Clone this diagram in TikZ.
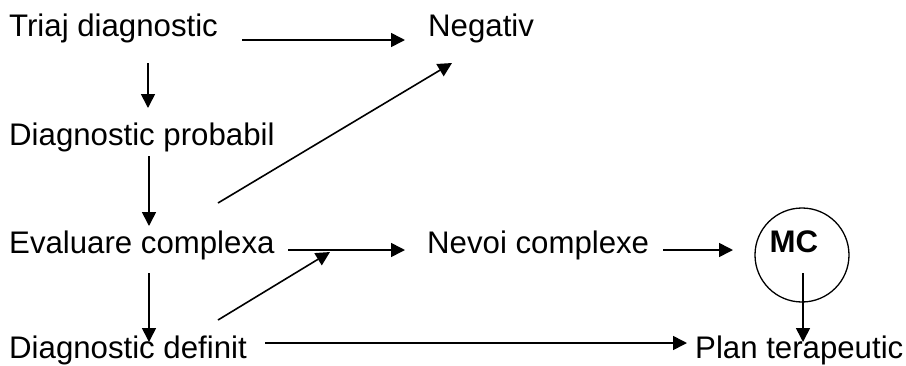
\documentclass[tikz,border=0pt]{standalone}
\usepackage{fontspec}
\setmainfont{Liberation Sans}
\usetikzlibrary{arrows.meta}
\begin{document}
\begin{tikzpicture}[x=1pt,y=-1pt,
  lbl/.style={inner sep=0pt,anchor=base west,font=\fontsize{31.2}{36}\selectfont},
  arr/.style={line width=1.6pt,-{Triangle[length=14pt,width=14pt]}},
  ring/.style={draw,circle,line width=1.3pt,minimum size=94pt,inner sep=0pt}]
\useasboundingbox (0,0) rectangle (906,365);
% text nodes
\node[lbl] (triaj) at (9,36) {Triaj diagnostic};
\node[lbl] (neg) at (428,36) {Negativ};
\node[lbl] (prob) at (9,145) {Diagnostic probabil};
\node[lbl] (eval) at (9,253) {Evaluare complexa};
\node[lbl] (nevoi) at (427,253) {Nevoi complexe};
\node[lbl] (def) at (9,358) {Diagnostic definit};
\node[lbl] (plan) at (695,358) {Plan terapeutic};
\node[ring] (mcc) at (802,255) {};
\node[inner sep=0pt,anchor=base,font=\fontsize{31.2}{36}\selectfont\bfseries] (mc) at (794,252) {MC};
% connector ends
\coordinate (a1) at (242,40);  \coordinate (a2) at (405,40);
\coordinate (b1) at (148,63);  \coordinate (b2) at (148,108);
\coordinate (c1) at (149,156); \coordinate (c2) at (149,226);
\coordinate (d1) at (218,203); \coordinate (d2) at (452,63);
\coordinate (e1) at (288,250); \coordinate (e2) at (405,250);
\coordinate (f1) at (218,320); \coordinate (f2) at (330,252);
\coordinate (g1) at (149,273); \coordinate (g2) at (149,342);
\coordinate (h1) at (663,250); \coordinate (h2) at (733,250);
\coordinate (i1) at (803,273); \coordinate (i2) at (803,342);
\coordinate (j1) at (265,343); \coordinate (j2) at (687,343);
% connectors
\draw[arr] (a1) -- (a2);
\draw[arr] (b1) -- (b2);
\draw[arr] (c1) -- (c2);
\draw[arr] (d1) -- (d2);
\draw[arr] (e1) -- (e2);
\draw[arr] (f1) -- (f2);
\draw[arr] (g1) -- (g2);
\draw[arr] (h1) -- (h2);
\draw[arr] (i1) -- (i2);
\draw[arr] (j1) -- (j2);
\end{tikzpicture}
\end{document}
